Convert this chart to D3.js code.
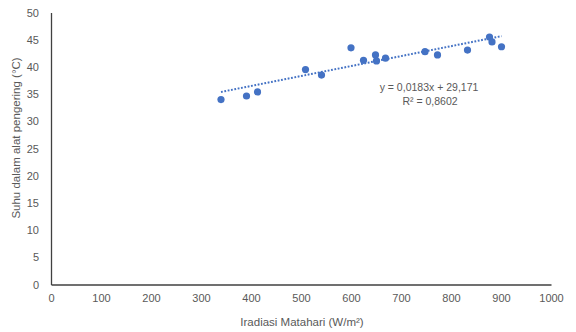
<!DOCTYPE html>
<html><head><meta charset="utf-8">
<script src="https://cdn.jsdelivr.net/npm/d3@7/dist/d3.min.js"></script>
<style>body{margin:0;background:#fff}svg{display:block}text{font-family:"Liberation Sans",Arial,sans-serif;fill:#595959}</style>
</head><body><svg id="c" width="576" height="332"></svg>
<script>
const irradiance = [340, 391, 413, 509, 541, 600, 625, 649, 651, 669, 748, 773, 833, 877, 882, 901];
const temperature = [34.0, 34.65, 35.4, 39.5, 38.5, 43.5, 41.2, 42.2, 41.1, 41.6, 42.8, 42.2, 43.1, 45.5, 44.6, 43.7];
const xTicks = [0,100,200,300,400,500,600,700,800,900,1000];
const yTicks = [0,5,10,15,20,25,30,35,40,45,50];
const trendSlope = 0.0183, trendIntercept = 29.171;
const equationText = "y = 0,0183x + 29,171";
const r2Text = "R² = 0,8602";
const xTitle = "Iradiasi Matahari (W/m²)";
const yTitle = "Suhu dalam alat pengering (°C)";

const svg = d3.select("#c");
const x = d3.scaleLinear().domain([0,1000]).range([51,551]);
const y = d3.scaleLinear().domain([0,50]).range([284.5,12.5]);

const xAxis = svg.append("g").attr("transform","translate(0,284.5)")
  .call(d3.axisBottom(x).tickValues(xTicks).tickSize(0).tickPadding(10).tickFormat(d3.format("d")));
const yAxis = svg.append("g").attr("transform","translate(51,0)")
  .call(d3.axisLeft(y).tickValues(yTicks).tickSize(0).tickPadding(12).tickFormat(d3.format("d")));
[xAxis,yAxis].forEach(g=>{
  g.select(".domain").attr("stroke","#404040").attr("stroke-width",1.3);
  g.selectAll("text").attr("font-size",11).attr("fill","#595959").attr("font-family","'Liberation Sans',Arial,sans-serif");
});

// trendline
const xs = d3.extent(irradiance);
svg.append("line")
  .attr("x1",x(xs[0])).attr("y1",y(trendSlope*xs[0]+trendIntercept))
  .attr("x2",x(xs[1])).attr("y2",y(trendSlope*xs[1]+trendIntercept))
  .attr("stroke","#4472c4").attr("stroke-width",2).attr("stroke-dasharray","1.8,1.6");

svg.append("g").selectAll("circle").data(irradiance).join("circle")
  .attr("cx",d=>x(d)).attr("cy",(d,i)=>y(temperature[i])).attr("r",3.6)
  .attr("fill","#4472c4");

svg.append("text").attr("x",429).attr("y",90.5).attr("text-anchor","middle")
  .attr("font-size",10.5).attr("fill","#404040").text(equationText);
svg.append("text").attr("x",430).attr("y",104.5).attr("text-anchor","middle")
  .attr("font-size",10.5).attr("fill","#404040").text(r2Text);

svg.append("text").attr("x",302).attr("y",326).attr("text-anchor","middle")
  .attr("font-size",11.5).text(xTitle);
svg.append("text").attr("transform","translate(20,138) rotate(-90)").attr("text-anchor","middle")
  .attr("font-size",11.5).text(yTitle);
</script></body></html>
